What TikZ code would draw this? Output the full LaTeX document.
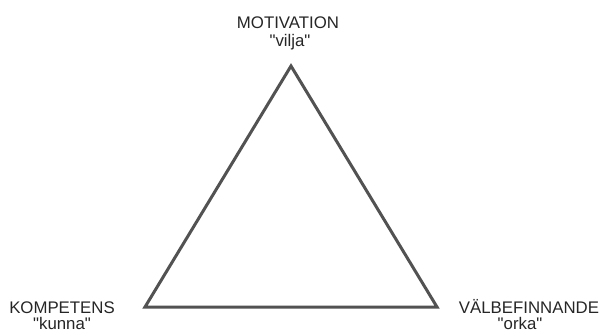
\documentclass[tikz,border=0pt]{standalone}
\usepackage{fontspec}
\setmainfont{Liberation Sans}[Ligatures=TeXOff]
\begin{document}
\begin{tikzpicture}[x=1pt,y=-1pt,
  lbl/.style={font=\fontsize{16.8}{19}\selectfont, text=black!85, inner sep=0pt, anchor=base},
  edge/.style={draw=black!68, line width=3pt, line join=miter}]
\useasboundingbox[fill=white] (0,0) rectangle (601,336);
\coordinate (top) at (291,66);
\coordinate (bl) at (145,307);
\coordinate (br) at (437,307);
\node[lbl] (mot) at (288,29) {MOTIVATION};
\node[lbl] (vil) at (290,47) {"vilja"};
\node[lbl] (kom) at (62,313) {KOMPETENS};
\node[lbl] (kun) at (62,329) {"kunna"};
\node[lbl] (val) at (529,313) {VÄLBEFINNANDE};
\node[lbl] (ork) at (520,329) {"orka"};
\draw[edge] (top) -- (br) -- (bl) -- cycle;
\end{tikzpicture}
\end{document}
